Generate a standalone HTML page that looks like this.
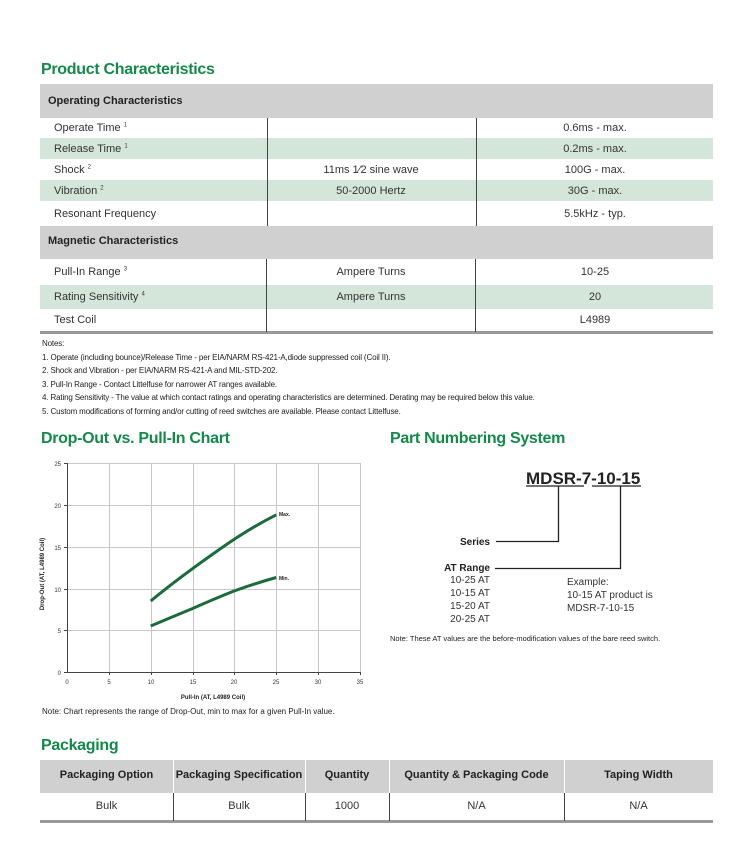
<!DOCTYPE html>
<html><head><meta charset="utf-8"><style>
body{margin:0;width:743px;height:854px;background:#fff;font-family:"Liberation Sans",sans-serif;color:#333;position:relative;overflow:hidden}
.a{position:absolute}
.t{color:#14894a;font-weight:bold;font-size:16px;letter-spacing:-0.3px}
.r{position:absolute;left:40px;width:673px}
.g{background:#d0d0d0}
.gr{background:#d4e6da}
.c{position:absolute;font-size:11px;color:#333}
.h{font-weight:bold;font-size:11px;color:#222;font-family:"Liberation Sans Narrow","Liberation Sans",sans-serif}
.vl{position:absolute;width:1px;background:#444}
.n{font-size:8px;color:#222;line-height:13.5px;letter-spacing:-0.15px}
</style></head><body>
<div class="a t" style="left:41px;top:61px">Product Characteristics</div>
<div class="r g" style="top:84px;height:34px"></div>
<div class="a h" style="left:48px;top:95px">Operating Characteristics</div>
<div class="r gr" style="top:138px;height:21px"></div>
<div class="r gr" style="top:180px;height:21px"></div>
<div class="r g" style="top:226px;height:33px"></div>
<div class="a h" style="left:48px;top:235px">Magnetic Characteristics</div>
<div class="r gr" style="top:285px;height:24px"></div>
<div class="r" style="top:331px;height:3px;background:#999"></div>
<div class="vl" style="left:267px;top:118px;height:108px"></div>
<div class="vl" style="left:476px;top:118px;height:108px"></div>
<div class="vl" style="left:266px;top:259px;height:73px"></div>
<div class="vl" style="left:475px;top:259px;height:73px"></div>
<div class="c" style="left:54px;top:122px">Operate Time <sup style="font-size:6px">1</sup></div>
<div class="c" style="left:54px;top:143px">Release Time <sup style="font-size:6px">1</sup></div>
<div class="c" style="left:54px;top:164px">Shock <sup style="font-size:6px">2</sup></div>
<div class="c" style="left:54px;top:185px">Vibration <sup style="font-size:6px">2</sup></div>
<div class="c" style="left:54px;top:208px">Resonant Frequency</div>
<div class="c" style="left:54px;top:266px">Pull-In Range <sup style="font-size:6px">3</sup></div>
<div class="c" style="left:54px;top:291px">Rating Sensitivity <sup style="font-size:6px">4</sup></div>
<div class="c" style="left:54px;top:314px">Test Coil</div>
<div class="c" style="left:271px;width:200px;text-align:center;top:164px">11ms 1⁄2 sine wave</div>
<div class="c" style="left:271px;width:200px;text-align:center;top:185px">50-2000 Hertz</div>
<div class="c" style="left:271px;width:200px;text-align:center;top:266px">Ampere Turns</div>
<div class="c" style="left:271px;width:200px;text-align:center;top:291px">Ampere Turns</div>
<div class="c" style="left:495px;width:200px;text-align:center;top:122px">0.6ms - max.</div>
<div class="c" style="left:495px;width:200px;text-align:center;top:143px">0.2ms - max.</div>
<div class="c" style="left:495px;width:200px;text-align:center;top:164px">100G - max.</div>
<div class="c" style="left:495px;width:200px;text-align:center;top:185px">30G - max.</div>
<div class="c" style="left:495px;width:200px;text-align:center;top:208px">5.5kHz - typ.</div>
<div class="c" style="left:495px;width:200px;text-align:center;top:266px">10-25</div>
<div class="c" style="left:495px;width:200px;text-align:center;top:291px">20</div>
<div class="c" style="left:495px;width:200px;text-align:center;top:314px">L4989</div>
<div class="a n" style="left:42px;top:337px">Notes:<br>1. Operate (including bounce)/Release Time - per EIA/NARM RS-421-A,diode suppressed coil (Coil II).<br>2. Shock and Vibration - per EIA/NARM RS-421-A and MIL-STD-202.<br>3. Pull-In Range - Contact Littelfuse for narrower AT ranges available.<br>4. Rating Sensitivity - The value at which contact ratings and operating characteristics are determined. Derating may be required below this value.<br>5. Custom modifications of forming and/or cutting of reed switches are available. Please contact Littelfuse.</div>
<div class="a t" style="left:41px;top:430px">Drop-Out vs. Pull-In Chart</div>
<div class="a t" style="left:390px;top:430px">Part Numbering System</div>
<svg class="a" style="left:0;top:0" width="743" height="854">
<g stroke="#c8c8c8" stroke-width="1" fill="none">
<path d="M67.5 463.5H360.5M67.5 505.5H360.5M67.5 547.5H360.5M67.5 589.5H360.5M67.5 630.5H360.5"/>
<path d="M109.5 463V672M151.5 463V672M193.5 463V672M234.5 463V672M276.5 463V672M318.5 463V672M360.5 463V672"/>
</g>
<path d="M67.5 463V672.5H360" stroke="#444" fill="none"/>
<g stroke="#444"><path d="M64 463.5H67M64 505.5H67M64 547.5H67M64 589.5H67M64 630.5H67M64 672.5H67M109.5 672V675M151.5 672V675M193.5 672V675M234.5 672V675M276.5 672V675M318.5 672V675M360.5 672V675"/></g>
<g font-size="6" fill="#333" text-anchor="end"><text x="61" y="466">25</text><text x="61" y="508">20</text><text x="61" y="550">15</text><text x="61" y="592">10</text><text x="61" y="633">5</text><text x="61" y="675">0</text></g>
<g font-size="6" fill="#333" text-anchor="middle"><text x="67" y="684">0</text><text x="109" y="684">5</text><text x="151" y="684">10</text><text x="193" y="684">15</text><text x="234" y="684">20</text><text x="276" y="684">25</text><text x="318" y="684">30</text><text x="360" y="684">35</text></g>
<text x="213" y="699" font-size="6" font-weight="bold" text-anchor="middle" fill="#222">Pull-In (AT, L4989 Coil)</text>
<text transform="translate(44,574) rotate(-90)" font-size="6" font-weight="bold" text-anchor="middle" fill="#222">Drop-Out (AT, L4989 Coil)</text>
<path d="M150.7 601 C170 585 200 563 220 549 S262 522 276.3 514.8" stroke="#1c6b3c" stroke-width="3" fill="none"/>
<path d="M150.7 626 Q172 617 192.6 608.5 Q214 599 234.4 590.9 Q256 583 276.3 577.5" stroke="#1c6b3c" stroke-width="3" fill="none"/>
<text x="279" y="516" font-size="5" font-weight="bold" fill="#222">Max.</text>
<text x="279" y="580" font-size="5" font-weight="bold" fill="#222">Min.</text>
<g stroke="#222" stroke-width="1.3" fill="none">
<path d="M526 486H584M592 486H641"/>
<path d="M558.5 486V541.5H496M620.5 486V568.5H495"/>
</g>
<text x="526" y="484" font-size="17" font-weight="bold" fill="#222">MDSR-7-10-15</text>
<g font-size="10" fill="#333" text-anchor="end"><text x="490" y="545" font-weight="bold" fill="#222">Series</text><text x="490" y="571" font-weight="bold" fill="#222">AT Range</text><text x="490" y="583">10-25 AT</text><text x="490" y="596">10-15 AT</text><text x="490" y="609">15-20 AT</text><text x="490" y="622">20-25 AT</text></g>
<g font-size="10" fill="#333"><text x="567" y="585">Example:</text><text x="567" y="598">10-15 AT product is</text><text x="567" y="611">MDSR-7-10-15</text></g>
<text x="390" y="641" font-size="7.5" fill="#222">Note: These AT values are the before-modification values of the bare reed switch.</text>
</svg>
<div class="a" style="left:42px;top:707px;font-size:8px;color:#222">Note: Chart represents the range of Drop-Out, min to max for a given Pull-In value.</div>
<div class="a t" style="left:41px;top:737px">Packaging</div>
<div class="r g" style="top:760px;height:33px"></div>
<div class="r" style="top:820px;height:3px;background:#999"></div>
<div class="a" style="left:173px;top:760px;width:1px;height:33px;background:#fff"></div>
<div class="a" style="left:305px;top:760px;width:1px;height:33px;background:#fff"></div>
<div class="a" style="left:389px;top:760px;width:1px;height:33px;background:#fff"></div>
<div class="a" style="left:564px;top:760px;width:1px;height:33px;background:#fff"></div>
<div class="vl" style="left:173px;top:793px;height:28px"></div>
<div class="vl" style="left:305px;top:793px;height:28px"></div>
<div class="vl" style="left:389px;top:793px;height:28px"></div>
<div class="vl" style="left:564px;top:793px;height:28px"></div>
<div class="a h" style="left:40px;width:133px;text-align:center;top:769px">Packaging Option</div>
<div class="a h" style="left:173px;width:132px;text-align:center;top:769px">Packaging Specification</div>
<div class="a h" style="left:305px;width:84px;text-align:center;top:769px">Quantity</div>
<div class="a h" style="left:389px;width:175px;text-align:center;top:769px">Quantity &amp; Packaging Code</div>
<div class="a h" style="left:564px;width:149px;text-align:center;top:769px">Taping Width</div>
<div class="c" style="left:40px;width:133px;text-align:center;top:800px">Bulk</div>
<div class="c" style="left:173px;width:132px;text-align:center;top:800px">Bulk</div>
<div class="c" style="left:305px;width:84px;text-align:center;top:800px">1000</div>
<div class="c" style="left:389px;width:175px;text-align:center;top:800px">N/A</div>
<div class="c" style="left:564px;width:149px;text-align:center;top:800px">N/A</div>
</body></html>
